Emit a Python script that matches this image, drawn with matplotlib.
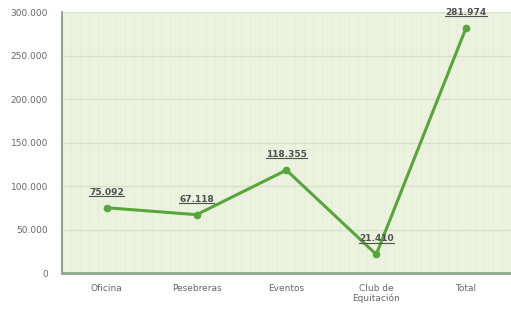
import matplotlib.pyplot as plt
import matplotlib.ticker as mticker
from matplotlib.lines import Line2D

categorias = ['Oficina', 'Pesebreras', 'Eventos', 'Club de\nEquitación', 'Total']
valores = [75092, 67118, 118355, 21410, 281974]
etiquetas = ['75.092', '67.118', '118.355', '21.410', '281.974']

fig = plt.figure(figsize=(5.11, 3.11), dpi=100)
ax = fig.add_axes([0.121, 0.122, 0.879, 0.839])
ax.set_facecolor('#ebf3df')

x = list(range(len(categorias)))
ax.plot(x, valores, color='#58a53c', lw=2.2, marker='o', ms=4.5, zorder=3)

textos = []
for xi, v, t in zip(x, valores, etiquetas):
    txt = ax.annotate(t, (xi, v), xytext=(0, 8), textcoords='offset points',
                      ha='center', va='bottom', fontsize=6.5, fontweight='bold',
                      color='#505050', zorder=4)
    textos.append(txt)

ax.set_xlim(-0.5, len(categorias) - 0.5)
ax.set_ylim(0, 300000)
ax.set_xticks(x)
ax.set_xticklabels(categorias, fontsize=6.5, color='#666666', linespacing=1.1)
ax.set_yticks(range(0, 300001, 50000))
ax.yaxis.set_major_formatter(mticker.FuncFormatter(
    lambda v, p: '0' if v == 0 else f'{int(v):,}'.replace(',', '.')))
ax.tick_params(axis='y', labelsize=6.5, labelcolor='#666666', length=0, pad=10)
ax.tick_params(axis='x', length=0, pad=8)

ax.grid(axis='y', color='#d6e2c6', lw=1)
ax.set_xticks([i * 0.1 - 0.5 for i in range(51)], minor=True)
ax.grid(axis='x', which='minor', color='#e3edd6', lw=0.6)
ax.tick_params(axis='x', which='minor', length=0)
ax.set_axisbelow(True)

for s in ['top', 'right']:
    ax.spines[s].set_visible(False)
ax.spines['left'].set_color('#7f9477')
ax.spines['left'].set_linewidth(1.2)
ax.spines['bottom'].set_color('#8fa88a')
ax.spines['bottom'].set_linewidth(2)

# underline the value labels
fig.canvas.draw()
r = fig.canvas.get_renderer()
W, H = fig.bbox.width, fig.bbox.height
for txt in textos:
    bb = txt.get_window_extent(r)
    y = (bb.y0 + 0.8) / H
    fig.add_artist(Line2D([bb.x0 / W, bb.x1 / W], [y, y], color='#505050', lw=0.8, zorder=5))

plt.savefig('out.png', dpi=100)
